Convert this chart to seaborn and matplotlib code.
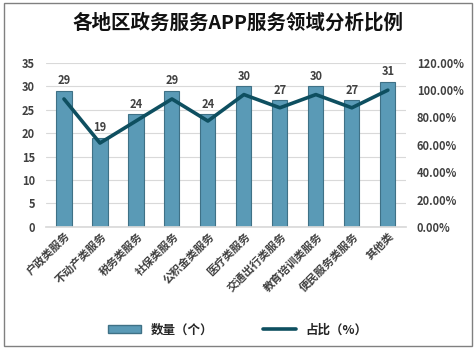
import matplotlib
matplotlib.use("Agg")
import matplotlib.pyplot as plt
import seaborn as sns
import pandas as pd
from matplotlib.ticker import FuncFormatter, MultipleLocator
from matplotlib.patches import Rectangle
from matplotlib.lines import Line2D

categories = ["户政类服务", "不动产类服务", "税务类服务", "社保类服务", "公积金类服务",
              "医疗类服务", "交通出行类服务", "教育培训类服务", "便民服务类服务", "其他类"]
counts = [29, 19, 24, 29, 24, 30, 27, 30, 27, 31]
shares = [93.55, 61.29, 77.42, 93.55, 77.42, 96.77, 87.10, 96.77, 87.10, 100.0]

sns.set_theme(style="white")
plt.rcParams['font.family'] = ['Noto Sans CJK SC', 'DejaVu Sans']

df = pd.DataFrame({"cat": categories, "count": counts, "share": shares})

fig = plt.figure(figsize=(4.76, 3.49), dpi=100)
ax = fig.add_axes([0.0966, 0.35, 0.756, 0.47])

bar_color = "#5a9ab6"
sns.barplot(data=df, x="cat", y="count", color=bar_color, width=0.42,
            edgecolor="#3f7186", linewidth=0.8, ax=ax, saturation=1)
ax.set_ylim(0, 35)
ax.set_xlim(-0.5, 9.5)
ax.yaxis.set_major_locator(MultipleLocator(5))
ax.grid(axis="y", color="#d9d9d9", linewidth=0.8)
ax.set_axisbelow(True)
for s in ["top", "right", "left"]:
    ax.spines[s].set_visible(False)
ax.spines["bottom"].set_color("#d9d9d9")
ax.set_xlabel("")
ax.set_ylabel("")
ax.tick_params(axis="y", labelsize=8, colors="#404040", pad=8, length=0)
ax.tick_params(axis="x", length=0, pad=2)
ax.set_xticks(range(len(categories)))
ax.set_xticklabels(categories, rotation=45, ha="right", rotation_mode="anchor",
                   fontsize=8, color="#404040", fontweight="bold")
for lbl in ax.get_yticklabels():
    lbl.set_fontweight("bold")

for i, v in enumerate(counts):
    ax.text(i, v + 0.8, str(v), ha="center", va="bottom", fontsize=8,
            color="#404040", fontweight="bold")

ax2 = ax.twinx()
sns.lineplot(x=list(range(len(categories))), y=shares, ax=ax2, color="#0e4f60",
             linewidth=2.6)
ax2.set_ylim(0, 120)
ax2.set_xlim(-0.5, 9.5)
ax2.yaxis.set_major_locator(MultipleLocator(20))
ax2.yaxis.set_major_formatter(FuncFormatter(lambda v, p: f"{v:.2f}%"))
for s in ["top", "right", "left", "bottom"]:
    ax2.spines[s].set_visible(False)
ax2.tick_params(axis="y", labelsize=8, colors="#404040", pad=8, length=0)
for lbl in ax2.get_yticklabels():
    lbl.set_fontweight("bold")
ax2.grid(False)

fig.text(0.5, 0.935, "各地区政务服务APP服务领域分析比例", ha="center", va="center",
         fontsize=14, fontweight="bold", color="#111111")

handles = [Rectangle((0, 0), 1, 1, facecolor=bar_color, edgecolor="#3f7186"),
           Line2D([0], [0], color="#0e4f60", linewidth=2.6)]
fig.legend(handles, ["数量（个）", "占比（%）"], loc="center", bbox_to_anchor=(0.5, 0.055),
           ncol=2, frameon=False, fontsize=9, handlelength=2.6, columnspacing=4,
           prop={"weight": "bold", "size": 9})

border = Rectangle((0.008, 0.01), 0.984, 0.98, transform=fig.transFigure, fill=False,
                   edgecolor="#808080", linewidth=1)
fig.patches.append(border)

fig.savefig("out.png", dpi=100)
